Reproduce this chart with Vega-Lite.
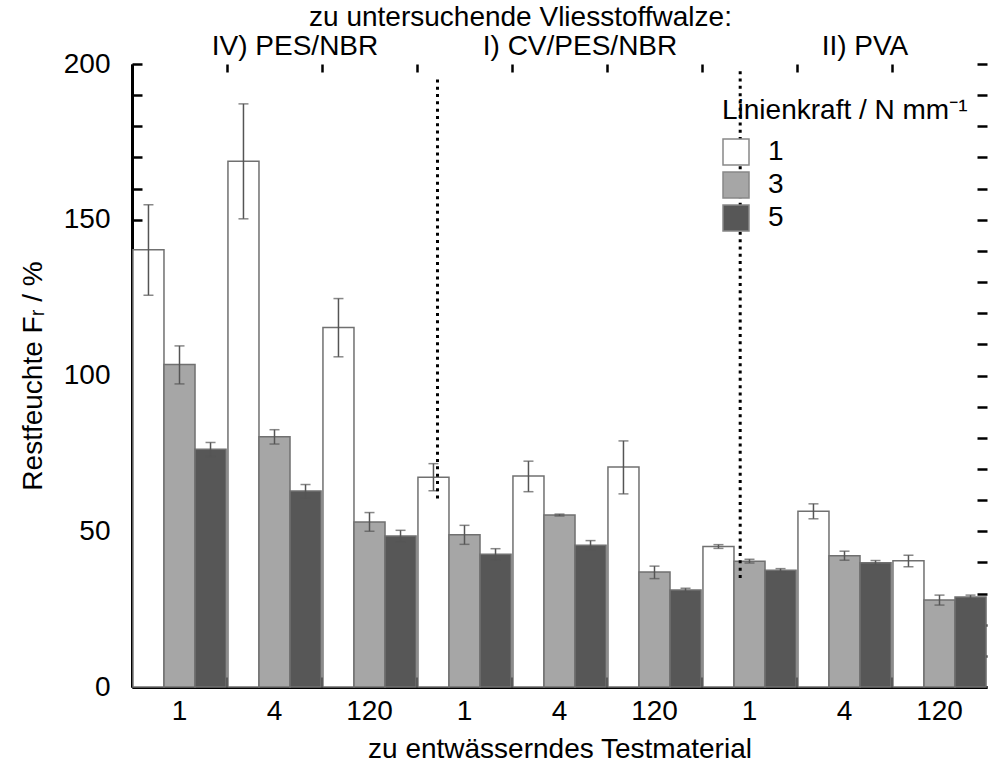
{
  "$schema": "https://vega.github.io/schema/vega-lite/v6.json",
  "width": 855,
  "height": 623,
  "autosize": "none",
  "padding": {"left": 132, "top": 64, "right": 1, "bottom": 77},
  "background": "white",
  "config": {
    "view": {"stroke": null},
    "font": "Liberation Sans",
    "axis": {"grid": false, "labelColor": "black", "titleColor": "black", "titleFontWeight": "normal", "labelFontSize": 28, "titleFontSize": 28, "domainColor": "black", "tickColor": "black", "labelLimit": 0, "labelOverlap": false}
  },
  "datasets": {
    "bars": [
      {"grp": "a1", "force": "1", "v": 140.4, "lo": 125.8, "hi": 154.8},
      {"grp": "a1", "force": "3", "v": 103.5, "lo": 97.3, "hi": 109.5},
      {"grp": "a1", "force": "5", "v": 76.3, "lo": 74.0, "hi": 78.5},
      {"grp": "a4", "force": "1", "v": 168.8, "lo": 150.3, "hi": 187.2},
      {"grp": "a4", "force": "3", "v": 80.3, "lo": 78.0, "hi": 82.6},
      {"grp": "a4", "force": "5", "v": 62.9, "lo": 60.6, "hi": 65.0},
      {"grp": "a120", "force": "1", "v": 115.4, "lo": 106.0, "hi": 124.7},
      {"grp": "a120", "force": "3", "v": 53.0, "lo": 50.0, "hi": 56.0},
      {"grp": "a120", "force": "5", "v": 48.5, "lo": 46.6, "hi": 50.3},
      {"grp": "b1", "force": "1", "v": 67.3, "lo": 63.0, "hi": 71.7},
      {"grp": "b1", "force": "3", "v": 48.9, "lo": 45.8, "hi": 51.9},
      {"grp": "b1", "force": "5", "v": 42.6, "lo": 40.7, "hi": 44.4},
      {"grp": "b4", "force": "1", "v": 67.7, "lo": 62.7, "hi": 72.5},
      {"grp": "b4", "force": "3", "v": 55.2, "lo": 54.9, "hi": 55.5},
      {"grp": "b4", "force": "5", "v": 45.5, "lo": 44.0, "hi": 47.0},
      {"grp": "b120", "force": "1", "v": 70.6, "lo": 62.0, "hi": 79.0},
      {"grp": "b120", "force": "3", "v": 36.9, "lo": 34.8, "hi": 38.8},
      {"grp": "b120", "force": "5", "v": 31.1, "lo": 30.5, "hi": 31.7},
      {"grp": "c1", "force": "1", "v": 45.1, "lo": 44.5, "hi": 45.7},
      {"grp": "c1", "force": "3", "v": 40.4, "lo": 39.8, "hi": 41.0},
      {"grp": "c1", "force": "5", "v": 37.5, "lo": 37.0, "hi": 38.0},
      {"grp": "c4", "force": "1", "v": 56.4, "lo": 54.0, "hi": 58.8},
      {"grp": "c4", "force": "3", "v": 42.1, "lo": 40.7, "hi": 43.6},
      {"grp": "c4", "force": "5", "v": 39.9, "lo": 39.2, "hi": 40.6},
      {"grp": "c120", "force": "1", "v": 40.5, "lo": 38.6, "hi": 42.3},
      {"grp": "c120", "force": "3", "v": 27.9, "lo": 26.3, "hi": 29.5},
      {"grp": "c120", "force": "5", "v": 28.9, "lo": 28.3, "hi": 29.5}
    ],
    "dividers": [
      {"grp": "b1", "y1": 60.5, "y2": 196.0},
      {"grp": "c1", "y1": 35.0, "y2": 198.5}
    ]
  },
  "layer": [
    {
      "data": {"name": "bars"},
      "mark": {"type": "bar", "stroke": "#707070", "strokeWidth": 1.5},
      "encoding": {
        "x": {
          "field": "grp", "type": "nominal", "sort": null,
          "scale": {"domain": ["a1", "a4", "a120", "b1", "b4", "b120", "c1", "c4", "c120"], "paddingInner": 0.02, "paddingOuter": 0.01},
          "axis": {"orient": "bottom", "bandPosition": 0, "tickSize": -10, "tickWidth": 3, "domainWidth": 3, "labelOffset": 0, "labelAngle": 0, "labelPadding": 20, "labelExpr": "substring(datum.label, 1)", "title": "zu entwässerndes Testmaterial", "titlePadding": 10}
        },
        "xOffset": {"field": "force", "type": "nominal", "sort": null},
        "y": {
          "field": "v", "type": "quantitative",
          "scale": {"domain": [0, 200], "nice": false},
          "axis": {"orient": "left", "values": [0, 10, 20, 30, 40, 50, 60, 70, 80, 90, 100, 110, 120, 130, 140, 150, 160, 170, 180, 190, 200], "labelExpr": "datum.value % 50 == 0 ? datum.label : ''", "tickSize": -10, "tickWidth": 2.5, "domainWidth": 3, "labelPadding": 32, "title": "Restfeuchte Fᵣ / %", "titlePadding": 16}
        },
        "fill": {
          "field": "force", "type": "nominal", "sort": null,
          "scale": {"domain": ["1", "3", "5"], "range": ["#ffffff", "#a6a6a6", "#575757"]},
          "legend": {"orient": "none", "legendX": 590, "legendY": 33, "title": "Linienkraft / N mm⁻¹", "titleFontSize": 28, "titleFontWeight": "normal", "titleColor": "black", "titleLimit": 0, "titlePadding": 13, "labelFontSize": 28, "labelColor": "black", "labelOffset": 18, "symbolType": "square", "symbolSize": 676, "symbolStrokeColor": "#888888", "symbolStrokeWidth": 1.5, "rowPadding": 1, "padding": 0}
        }
      }
    },
    {
      "data": {"name": "bars"},
      "mark": {"type": "rule", "color": "#555555", "strokeWidth": 1.5},
      "encoding": {
        "x": {
          "field": "grp", "type": "nominal", "sort": null,
          "axis": {"orient": "top", "bandPosition": 0, "tickSize": -8, "tickWidth": 2.5, "domain": false, "labelOffset": 20.5, "labelAngle": 0, "labelPadding": 12, "labelExpr": "datum.value == 'a4' ? 'IV) PES/NBR' : datum.value == 'b4' ? 'I) CV/PES/NBR' : datum.value == 'c4' ? 'II) PVA' : ''", "title": "zu untersuchende Vliesstoffwalze:", "titlePadding": 1, "titleX": 388}
        },
        "xOffset": {"field": "force", "type": "nominal", "sort": null},
        "y": {
          "field": "lo", "type": "quantitative",
          "axis": {"orient": "right", "values": [0, 10, 20, 30, 40, 50, 60, 70, 80, 90, 100, 110, 120, 130, 140, 150, 160, 170, 180, 190, 200], "labels": false, "tickSize": -10, "tickWidth": 2.5, "domain": false, "title": null}
        },
        "y2": {"field": "hi"}
      }
    },
    {
      "data": {"name": "bars"},
      "mark": {"type": "tick", "orient": "horizontal", "color": "#555555", "thickness": 1.5, "size": 10},
      "encoding": {
        "x": {"field": "grp", "type": "nominal", "sort": null, "axis": null},
        "xOffset": {"field": "force", "type": "nominal", "sort": null},
        "y": {"field": "lo", "type": "quantitative", "axis": null}
      }
    },
    {
      "data": {"name": "bars"},
      "mark": {"type": "tick", "orient": "horizontal", "color": "#555555", "thickness": 1.5, "size": 10},
      "encoding": {
        "x": {"field": "grp", "type": "nominal", "sort": null, "axis": null},
        "xOffset": {"field": "force", "type": "nominal", "sort": null},
        "y": {"field": "hi", "type": "quantitative", "axis": null}
      }
    },
    {
      "data": {"name": "dividers"},
      "transform": [{"filter": "datum.grp == 'b1'"}],
      "mark": {"type": "rule", "color": "black", "strokeWidth": 3, "strokeDash": [3, 4.3]},
      "encoding": {
        "x": {"field": "grp", "type": "nominal", "sort": null, "bandPosition": 0.21, "axis": null},
        "y": {"field": "y1", "type": "quantitative", "axis": null},
        "y2": {"field": "y2"}
      }
    },
    {
      "data": {"name": "dividers"},
      "transform": [{"filter": "datum.grp == 'c1'"}],
      "mark": {"type": "rule", "color": "black", "strokeWidth": 3, "strokeDash": [3, 4.3]},
      "encoding": {
        "x": {"field": "grp", "type": "nominal", "sort": null, "bandPosition": 0.4, "axis": null},
        "y": {"field": "y1", "type": "quantitative", "axis": null},
        "y2": {"field": "y2"}
      }
    }
  ],
  "resolve": {"axis": {"x": "independent", "y": "independent"}}
}
